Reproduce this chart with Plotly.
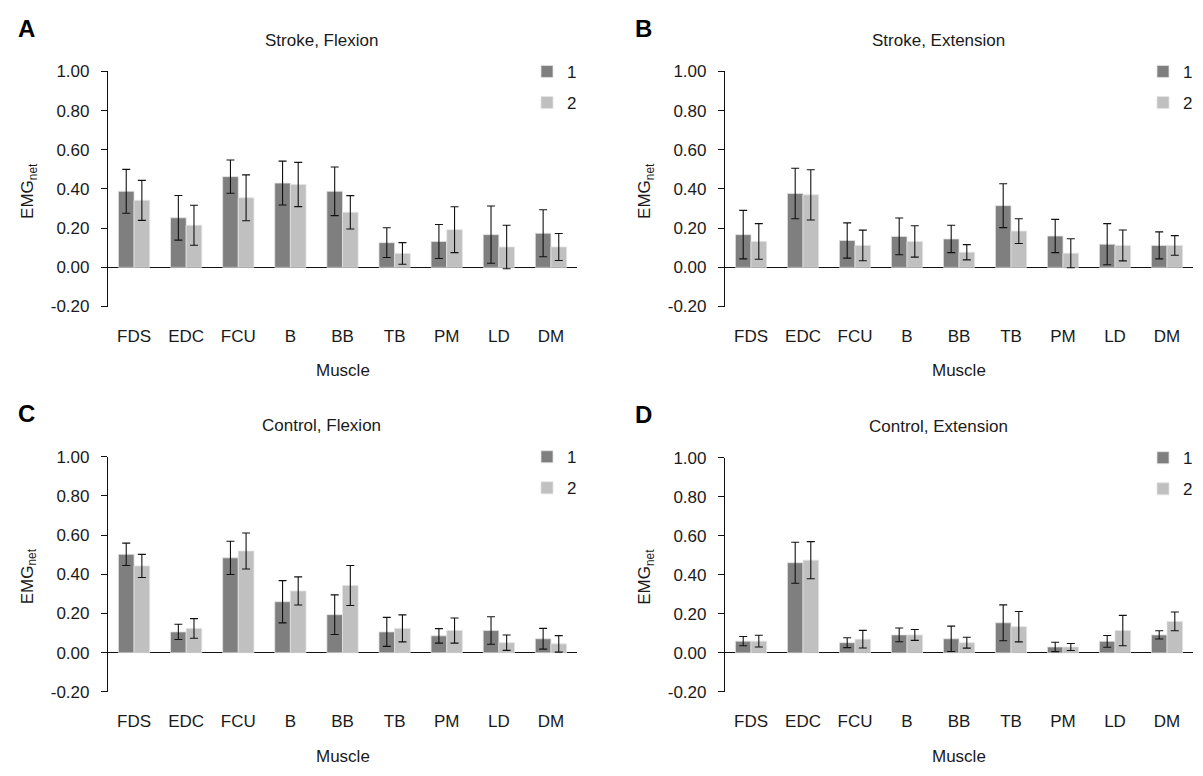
import plotly.graph_objects as go

W, H = 1203, 776

muscles = ["FDS", "EDC", "FCU", "B", "BB", "TB", "PM", "LD", "DM"]
series_names = ["1", "2"]

# Panel A: Stroke, Flexion
a1 = [0.388, 0.253, 0.463, 0.430, 0.388, 0.126, 0.132, 0.167, 0.174]
a1_err = [0.112, 0.114, 0.085, 0.112, 0.124, 0.076, 0.087, 0.146, 0.120]
a2 = [0.342, 0.215, 0.355, 0.423, 0.281, 0.071, 0.192, 0.104, 0.104]
a2_err = [0.102, 0.102, 0.117, 0.113, 0.085, 0.055, 0.117, 0.111, 0.069]

# Panel B: Stroke, Extension
b1 = [0.167, 0.377, 0.137, 0.158, 0.145, 0.315, 0.160, 0.118, 0.112]
b1_err = [0.124, 0.129, 0.090, 0.094, 0.070, 0.112, 0.085, 0.105, 0.069]
b2 = [0.132, 0.370, 0.112, 0.132, 0.077, 0.185, 0.072, 0.112, 0.112]
b2_err = [0.091, 0.128, 0.078, 0.080, 0.039, 0.063, 0.074, 0.079, 0.050]

# Panel C: Control, Flexion
c1 = [0.502, 0.106, 0.484, 0.260, 0.194, 0.106, 0.086, 0.113, 0.071]
c1_err = [0.057, 0.039, 0.085, 0.108, 0.101, 0.074, 0.037, 0.070, 0.053]
c2 = [0.443, 0.124, 0.519, 0.315, 0.343, 0.124, 0.113, 0.051, 0.045]
c2_err = [0.059, 0.050, 0.092, 0.072, 0.102, 0.069, 0.064, 0.039, 0.042]

# Panel D: Control, Extension
d1 = [0.060, 0.462, 0.052, 0.092, 0.072, 0.154, 0.030, 0.059, 0.092]
d1_err = [0.024, 0.105, 0.025, 0.035, 0.065, 0.092, 0.024, 0.030, 0.021]
d2 = [0.060, 0.475, 0.070, 0.092, 0.052, 0.134, 0.030, 0.114, 0.161]
d2_err = [0.030, 0.095, 0.045, 0.028, 0.028, 0.078, 0.018, 0.078, 0.048]

panel_titles = ["Stroke, Flexion", "Stroke, Extension", "Control, Flexion", "Control, Extension"]
panel_letters = ["A", "B", "C", "D"]
ytick_vals = [-0.2, 0.0, 0.2, 0.4, 0.6, 0.8, 1.0]
ytick_text = ["-0.20", "0.00", "0.20", "0.40", "0.60", "0.80", "1.00"]

colors = ["#7f7f7f", "#c0c0c0"]
FONT = "Liberation Sans, Arial, Helvetica, sans-serif"
TXT = "#1a1a1a"


def px_x(x):
    return x / W


def px_y(y):
    return 1 - y / H


# plot-area geometry in pixels (left, right, top, bottom)
boxes = [
    (108, 577, 64, 305),
    (725, 1193, 64, 305),
    (108, 577, 459, 700),
    (725, 1193, 460, 700),
]

panels = [
    (a1, a1_err, a2, a2_err),
    (b1, b1_err, b2, b2_err),
    (c1, c1_err, c2, c2_err),
    (d1, d1_err, d2, d2_err),
]

fig = go.Figure()
layout = {}
annotations = []

for i, (v1, e1, v2, e2) in enumerate(panels):
    n = i + 1
    sfx = "" if n == 1 else str(n)
    xa, ya = "x" + sfx, "y" + sfx
    leg = "legend" + sfx
    for k, (vals, errs) in enumerate([(v1, e1), (v2, e2)]):
        fig.add_trace(go.Bar(
            x=muscles, y=vals, name=series_names[k],
            marker=dict(color=colors[k], line=dict(width=0.8, color="#e2e2e2")),
            error_y=dict(type="data", array=errs, visible=True,
                         color="#111111", thickness=1.1, width=4),
            xaxis=xa, yaxis=ya, legend=leg,
            legendgroup=f"{n}-{k}", showlegend=True,
        ))
    L, R, T, B = boxes[i]
    layout["xaxis" + sfx] = dict(
        domain=[px_x(L), px_x(R)], anchor=ya, showline=False, showgrid=False,
        ticks="", tickfont=dict(size=17, color=TXT, family=FONT),
        ticklabelstandoff=17, zeroline=False, fixedrange=True,
    )
    layout["yaxis" + sfx] = dict(
        domain=[px_y(B), px_y(T)], anchor=xa, range=[-0.2, 1.0],
        showline=True, linecolor="#111111", linewidth=1.2,
        ticks="outside", ticklen=6, tickwidth=1.2, tickcolor="#111111",
        tickvals=ytick_vals, ticktext=ytick_text,
        tickfont=dict(size=17, color=TXT, family=FONT),
        ticklabelstandoff=8,
        showgrid=False, zeroline=True, zerolinecolor="#111111", zerolinewidth=1.2,
    )
    layout[leg] = dict(
        x=px_x(R - 50), y=px_y(T - 18), xanchor="left", yanchor="top",
        font=dict(size=17, color=TXT, family=FONT),
        bgcolor="rgba(0,0,0,0)", tracegroupgap=6, itemclick=False,
    )
    cx = (L + R) / 2
    # panel title
    annotations.append(dict(
        text=panel_titles[i], x=px_x(cx - 21), y=px_y(T - 32),
        xref="paper", yref="paper", showarrow=False,
        font=dict(size=17, color=TXT, family=FONT), xanchor="center", yanchor="middle",
    ))
    # panel letter
    annotations.append(dict(
        text="<b>" + panel_letters[i] + "</b>", x=px_x(L - 82), y=px_y(T - 44),
        xref="paper", yref="paper", showarrow=False,
        font=dict(size=24, color="#000000", family=FONT), xanchor="center", yanchor="middle",
    ))
    # y title
    annotations.append(dict(
        text="EMG<sub>net</sub>", x=px_x(L - 79), y=px_y((T + B) / 2 + 2),
        xref="paper", yref="paper", showarrow=False, textangle=-90,
        font=dict(size=17, color=TXT, family=FONT), xanchor="center", yanchor="middle",
    ))
    # x title
    annotations.append(dict(
        text="Muscle", x=px_x(cx), y=px_y(B + 66),
        xref="paper", yref="paper", showarrow=False,
        font=dict(size=17, color=TXT, family=FONT), xanchor="center", yanchor="middle",
    ))

fig.update_layout(
    width=W, height=H, margin=dict(l=0, r=0, t=0, b=0),
    paper_bgcolor="white", plot_bgcolor="white",
    barmode="group", bargap=0.4, bargroupgap=0.0,
    annotations=annotations,
    font=dict(family=FONT, color=TXT),
    **layout,
)

fig.write_html("out.html")
